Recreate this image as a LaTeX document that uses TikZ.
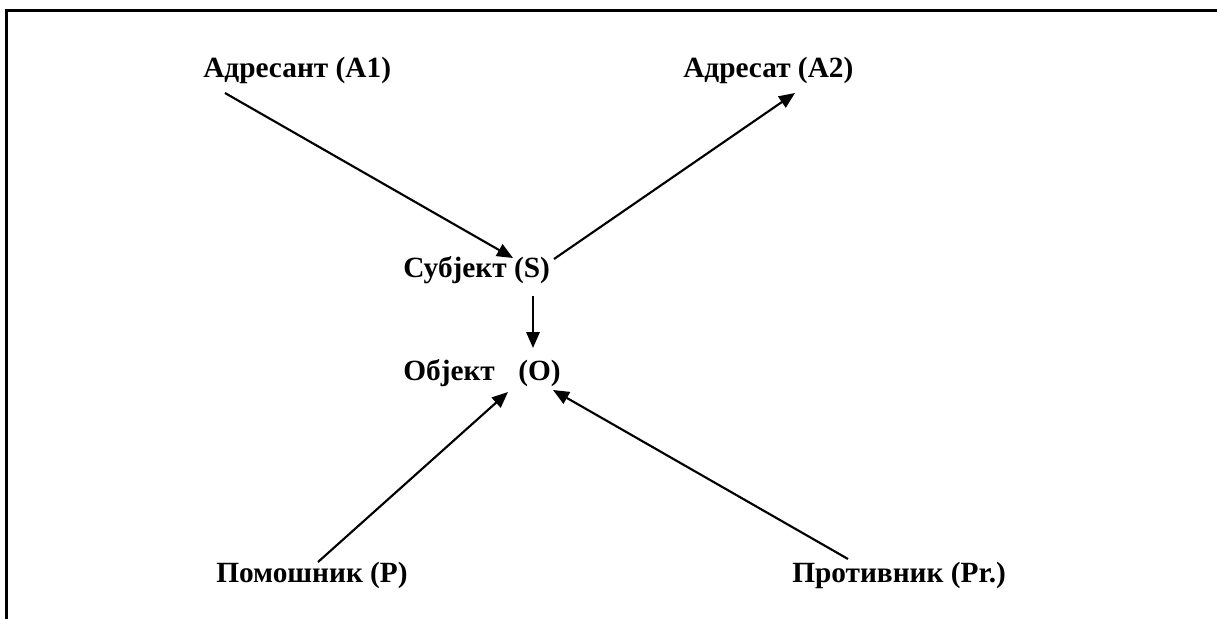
\documentclass[tikz,border=0pt]{standalone}
\usepackage{fontspec}
\setmainfont{Liberation Serif}
\usetikzlibrary{arrows.meta}

\begin{document}
\begin{tikzpicture}[x=0.75pt, y=-0.75pt, >={Triangle[length=12pt, width=10pt]},
  lbl/.style={anchor=base west, inner sep=0pt, font=\fontsize{22}{26}\selectfont\bfseries},
  arr/.style={->, line width=1.6pt}]
\useasboundingbox (0,0) rectangle (1217,618);
\draw[line width=2.25pt] (6.5,620) -- (6.5,10.8) -- (1219,10.8);
% actants
\node[lbl] (a1) at (203,77)  {Адресант (А1)};
\node[lbl] (a2) at (683,77)  {Адресат (А2)};
\node[lbl] (s)  at (403,277) {Субјект (S)};
\node[lbl] (o)  at (403,380) {Објект\hspace{0.8em}(О)};
\node[lbl] (p)  at (216,582) {Помошник (Р)};
\node[lbl] (pr) at (792,582) {Противник (Pr.)};
% arrows
\draw[arr] ([shift={(22,16)}]a1.base west) -- ([shift={(110,-19)}]s.base west);
\draw[arr] ([shift={(151,-18)}]s.base west) -- ([shift={(112,16)}]a2.base west);
\draw[arr] ([shift={(130,19)}]s.base west) -- ([shift={(130,-32)}]o.base west);
\draw[arr] ([shift={(102,-20)}]p.base west) -- ([shift={(105,12)}]o.base west);
\draw[arr] ([shift={(56,-23)}]pr.base west) -- ([shift={(150,10)}]o.base west);
\end{tikzpicture}
\end{document}
